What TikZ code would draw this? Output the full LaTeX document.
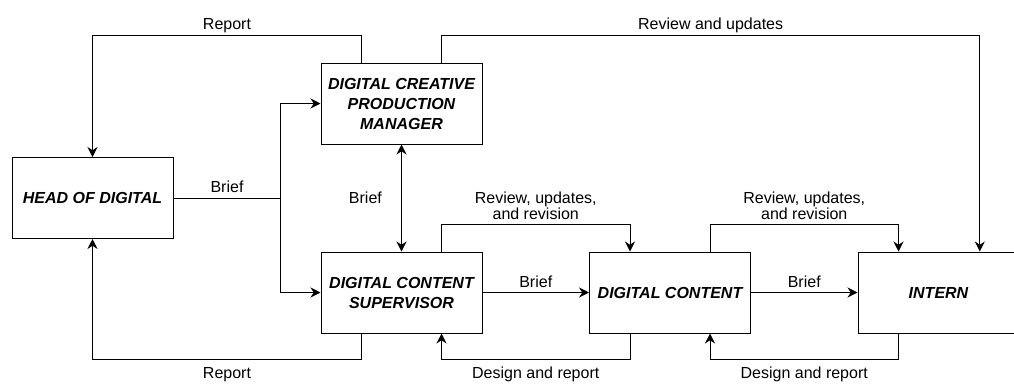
\documentclass[tikz,border=0pt]{standalone}
\usepackage{fontspec}
\setmainfont{Liberation Sans}
\usetikzlibrary{arrows.meta}

\begin{document}
\begin{tikzpicture}[x=0.75pt,y=0.75pt,font=\fontsize{12}{11}\selectfont]
\useasboundingbox (0,0) rectangle (1014,-383);

\begin{scope}[every node/.style={rectangle,line width=0.75pt,draw,minimum width=120.75pt,minimum height=60.75pt,
              align=center,font=\fontsize{12}{15}\selectfont\bfseries\itshape}]
    \node (hod) at (92.5,-198) {HEAD OF DIGITAL};
    \node (dcpm) at (401.5,-103.5) {DIGITAL CREATIVE\\PRODUCTION\\MANAGER};
    \node (dcs) at (401.5,-292.5) {DIGITAL CONTENT\\SUPERVISOR};
    \node (dc) at (670,-292.5) {DIGITAL CONTENT};
    \node (intern) at (938.5,-292.5) {INTERN};

    \end{scope}

\begin{scope}[>={Stealth[black,length=7.5pt,width=7.5pt]},
              every node/.style={rectangle,align=center},
              every edge/.style={draw=black,line width=0.75pt},
              line width=0.75pt]
    % brief going down
    \coordinate (split) at ([xshift=80.25pt]hod.east);
    \path [-] (hod.east) edge node[above] {Brief} (split);
    \draw [->] (split) |- (dcpm.west);
    \draw [->] (split) |- (dcs.west);
    \path [<->] (dcpm.south) edge node[left=11pt] {Brief} (dcs.north);
    \path [->] (dcs.east) edge node[above] {Brief} (dc.west);
    \path [->] (dc.east) edge node[above] {Brief} (intern.west);

    % review going down
    \draw [->] ([xshift=-30pt]dcpm.north) -- ++(0,27) -| node[pos=0.25,above,yshift=-2pt] {Report} (hod.north);
    \draw [->] ([xshift=30pt]dcpm.north) -- ++(0,27) -| node[pos=0.25,above,yshift=-2pt] {Review and updates} ([xshift=31pt]intern.north);
    \draw [->] ([xshift=30pt]dcs.north) -- ++(0,27) -| node[pos=0.25,above] {Review, updates,\\and revision} ([xshift=-30pt]dc.north);
    \draw [->] ([xshift=30pt]dc.north) -- ++(0,27) -| node[pos=0.25,above] {Review, updates,\\and revision} ([xshift=-30pt]intern.north);

    % reports going up
    \draw [->] ([xshift=-30pt]dcs.south) -- ++(0,-26) -| node[pos=0.25,below,yshift=-2pt] {Report} (hod.south);
    \draw [->] ([xshift=-30pt]dc.south) -- ++(0,-26) -| node[pos=0.25,below,yshift=-2pt] {Design and report} ([xshift=30pt]dcs.south);
    \draw [->] ([xshift=-30pt]intern.south) -- ++(0,-26) -| node[pos=0.25,below,yshift=-2pt] {Design and report} ([xshift=30pt]dc.south);

    \end{scope}

\end{tikzpicture}
\end{document}
